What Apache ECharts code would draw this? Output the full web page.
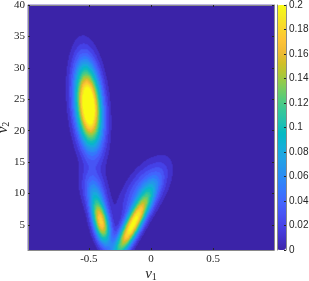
<!DOCTYPE html>
<html><head><meta charset="utf-8">
<script src="https://cdn.jsdelivr.net/npm/echarts@6/dist/echarts.min.js"></script>
<style>html,body{margin:0;padding:0;background:#fff}#c{width:309px;height:281px}</style>
</head><body><div id="c"></div>
<script>
// axis ticks
const xTicks = [-0.5, 0, 0.5];
const yTicks = [5, 10, 15, 20, 25, 30, 35, 40];
const cbTicks = [0, 0.02, 0.04, 0.06, 0.08, 0.1, 0.12, 0.14, 0.16, 0.18, 0.2];
const xRange = [-0.99, 0.99];
const yRange = [1, 40];
// density modes (location, height, spread, lean dv1/dv2)
const modeV1 = [-0.50, -0.40, -0.455, -0.15, -0.05];
const modeV2 = [24.0, 5.5, 10.5, 4.8, 10.5];
const modeHeight = [0.25, 0.18, 0.05, 0.20, 0.055];
const modeSpreadV2 = [4.4, 2.5, 2.2, 3.5, 3.0];
const modeSpreadV1 = [0.07, 0.045, 0.065, 0.05, 0.10];
const modeLean = [-0.004, -0.01, -0.008, 0.025, 0.022];
const levelStep = 0.01;
const cMax = 0.2;

const parula = ['#3e26a8','#4332cb','#4741e5','#4852f4','#4563fd','#3875fe','#2e87f7','#2796eb',
 '#20a5e3','#12b1d6','#02bac3','#24c1ae','#37c897','#57cc7a','#81cc59','#abc739','#d1bf27',
 '#f0ba36','#fec338','#fad62d','#f5e924','#f9fb15'];

const NX = 246, NY = 245;
const xCats = [], yCats = [];
for (let i = 0; i < NX; i++) xCats.push(String(i));
for (let j = 0; j < NY; j++) yCats.push(String(j));

function density(x, y) {
  let s = 0;
  for (let k = 0; k < modeV1.length; k++) {
    const dy = (y - modeV2[k]) / modeSpreadV2[k];
    const dx = (x - modeV1[k] - modeLean[k] * (y - modeV2[k])) / modeSpreadV1[k];
    s += modeHeight[k] * Math.exp(-0.5 * (dx * dx + dy * dy));
  }
  return s;
}
const cells = [];
for (let i = 0; i < NX; i++) {
  const x = xRange[0] + (i + 0.5) * (xRange[1] - xRange[0]) / NX;
  for (let j = 0; j < NY; j++) {
    const y = yRange[0] + (j + 0.5) * (yRange[1] - yRange[0]) / NY;
    let v = Math.floor(density(x, y) / levelStep) * levelStep;
    if (v > cMax) v = cMax;
    cells.push([i, j, +v.toFixed(3)]);
  }
}

const serif = 'Liberation Serif';
const sans = 'Liberation Sans';
const lineC = '#8a8a8a';
const txtC = '#262626';
const nameRich = {
  v: {fontFamily: serif, fontStyle: 'italic', fontSize: 15, color: txtC},
  s: {fontFamily: serif, fontSize: 10, color: txtC, verticalAlign: 'bottom', padding: [6, 0, 0, 0]}
};

const chart = echarts.init(document.getElementById('c'), null, {renderer: 'canvas'});
chart.setOption({
  animation: false,
  grid: [
    {left: 28, top: 5, width: 246, height: 245, outerBoundsMode: 'none', containLabel: false},
    {left: 277, top: 5, width: 9, height: 245, outerBoundsMode: 'none', containLabel: false}
  ],
  xAxis: [
    {type: 'category', data: xCats, gridIndex: 0, show: false},
    {type: 'value', gridIndex: 0, position: 'bottom', min: xRange[0], max: xRange[1], z: 10,
     axisLine: {show: true, onZero: false, lineStyle: {color: lineC, width: 1}},
     axisTick: {show: true, inside: true, length: 2, customValues: xTicks, lineStyle: {color: txtC}},
     axisLabel: {customValues: xTicks, fontFamily: serif, fontSize: 11, color: txtC, margin: 4,
       formatter: v => String(v)},
     splitLine: {show: false},
     name: '{v|v}{s|1}', nameLocation: 'middle', nameGap: 16, nameMoveOverlap: false,
     nameTextStyle: {rich: nameRich}},
    {type: 'value', gridIndex: 0, position: 'top', min: xRange[0], max: xRange[1], z: 10,
     axisLine: {show: true, onZero: false, lineStyle: {color: lineC, width: 1}},
     axisTick: {show: true, inside: true, length: 2, customValues: xTicks, lineStyle: {color: txtC}},
     axisLabel: {show: false}, splitLine: {show: false}},
    {type: 'value', gridIndex: 1, show: false, min: 0, max: 1}
  ],
  yAxis: [
    {type: 'category', data: yCats, gridIndex: 0, show: false},
    {type: 'value', gridIndex: 0, position: 'left', min: yRange[0], max: yRange[1], z: 10,
     axisLine: {show: true, onZero: false, lineStyle: {color: lineC, width: 1}},
     axisTick: {show: true, inside: true, length: 2, customValues: yTicks, lineStyle: {color: txtC}},
     axisLabel: {customValues: yTicks, fontFamily: serif, fontSize: 11, color: txtC, margin: 3},
     splitLine: {show: false},
     name: '{v|v}{s|2}', nameLocation: 'middle', nameGap: 17, nameMoveOverlap: false,
     nameTextStyle: {rich: nameRich}},
    {type: 'value', gridIndex: 0, position: 'right', min: yRange[0], max: yRange[1], z: 10,
     axisLine: {show: true, onZero: false, lineStyle: {color: lineC, width: 1}},
     axisTick: {show: true, inside: true, length: 2, customValues: yTicks, lineStyle: {color: txtC}},
     axisLabel: {show: false}, splitLine: {show: false}},
    {type: 'value', gridIndex: 1, position: 'right', min: 0, max: cMax, z: 10,
     axisLine: {show: true, onZero: false, lineStyle: {color: lineC, width: 1}},
     axisTick: {show: true, inside: true, length: 2, customValues: cbTicks, lineStyle: {color: txtC}},
     axisLabel: {customValues: cbTicks, fontFamily: sans, fontSize: 10, color: txtC, margin: 3,
       formatter: v => String(+v.toFixed(2))},
     splitLine: {show: false}},
    {type: 'value', gridIndex: 1, position: 'left', min: 0, max: cMax, z: 10,
     axisLine: {show: true, onZero: false, lineStyle: {color: lineC, width: 1}},
     axisTick: {show: false}, axisLabel: {show: false}, splitLine: {show: false}}
  ],
  visualMap: {
    type: 'continuous', min: 0, max: cMax, seriesIndex: 0, dimension: 2,
    calculable: false, orient: 'vertical', left: 277, top: 5, itemWidth: 9, itemHeight: 245,
    padding: 0, text: null, hoverLink: false,
    inRange: {color: parula}
  },
  series: [{
    type: 'heatmap', xAxisIndex: 0, yAxisIndex: 0, data: cells, progressive: 0,
    emphasis: {disabled: true}
  }]
});
</script>
</body></html>
